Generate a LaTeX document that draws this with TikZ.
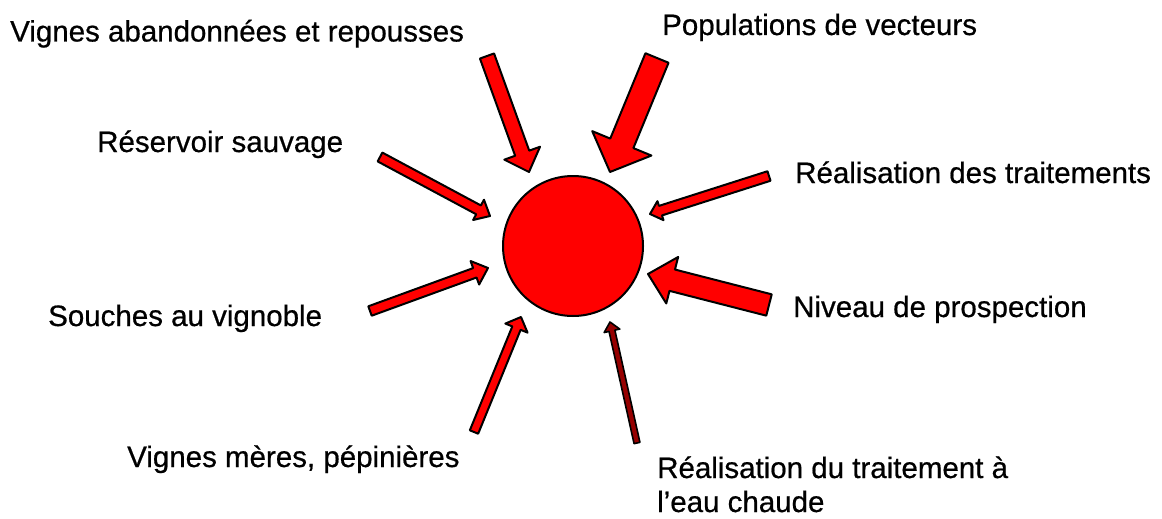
\documentclass[tikz,border=0pt]{standalone}
\usepackage{fontspec}
\setmainfont{Liberation Sans}
\newfontfamily\lblfont{Liberation Sans}[FakeBold=0.6]
\usetikzlibrary{calc}
\definecolor{arrowred}{RGB}{255,0,0}
\definecolor{darkarrow}{RGB}{150,0,0}
\tikzset{
  lbl/.style={anchor=base west, inner sep=0pt, font=\lblfont\fontsize{29.5}{34}\selectfont},
  blk/.style={fill=arrowred, draw=black, line width=2pt, line join=round},
  blkdark/.style={fill=darkarrow, draw=black, line width=1.6pt, line join=round},
}
\newcommand\barrow[6]{%
  \coordinate (hb) at ($(#2)!#5!(#1)$);
  \draw[#6] ($(#1)!#3!90:(#2)$) -- ($(hb)!#3!90:(#2)$) -- ($(hb)!#4!90:(#2)$) -- (#2)
    -- ($(hb)!#4!-90:(#2)$) -- ($(hb)!#3!-90:(#2)$) -- ($(#1)!#3!-90:(#2)$) -- cycle;}
\begin{document}
\begin{tikzpicture}[x=1pt,y=-1pt]
\useasboundingbox (0,0) rectangle (1162,519);
\node[circle, minimum size=140pt, inner sep=0pt, fill=arrowred, draw=black, line width=2pt] (c) at (573,246) {};
% labels
\node[lbl] (l1) at (10,41.5) {Vignes abandonnées et repousses};
\node[lbl] (l2) at (662,35) {Populations de vecteurs};
\node[lbl] (l3) at (97,152) {Réservoir sauvage};
\node[lbl] (l4) at (795,183) {Réalisation des traitements};
\node[lbl] (l5) at (48,326) {Souches au vignoble};
\node[lbl] (l6) at (793,317) {Niveau de prospection};
\node[lbl] (l7) at (127,467) {Vignes mères, pépinières};
\node[lbl] (l8) at (657,478) {Réalisation du traitement à};
\node[lbl] (l9) at (657,512) {l’eau chaude};
% arrow ends
\coordinate (t1) at (487,56);  \coordinate (p1) at (529,172);
\coordinate (t2) at (657,58);  \coordinate (p2) at (610,172);
\coordinate (t3) at (380,157); \coordinate (p3) at (490,216);
\coordinate (t4) at (769,176); \coordinate (p4) at (650,214);
\coordinate (t5) at (769,305); \coordinate (p5) at (648,274);
\coordinate (t6) at (370,311); \coordinate (p6) at (488,268);
\coordinate (t7) at (474,432); \coordinate (p7) at (521,317);
\coordinate (t8) at (637,443); \coordinate (p8) at (610,322);
\barrow{t1}{p1}{7.5pt}{19pt}{20pt}{blk}
\barrow{t2}{p2}{12.5pt}{32pt}{31pt}{blk}
\barrow{t3}{p3}{5pt}{11.5pt}{13pt}{blk}
\barrow{t4}{p4}{5pt}{10pt}{11pt}{blk}
\barrow{t5}{p5}{11pt}{24pt}{25pt}{blk}
\barrow{t6}{p6}{5pt}{12.5pt}{14pt}{blk}
\barrow{t7}{p7}{4.5pt}{12pt}{12pt}{blk}
\barrow{t8}{p8}{3pt}{8pt}{9pt}{blkdark}
\end{tikzpicture}
\end{document}
